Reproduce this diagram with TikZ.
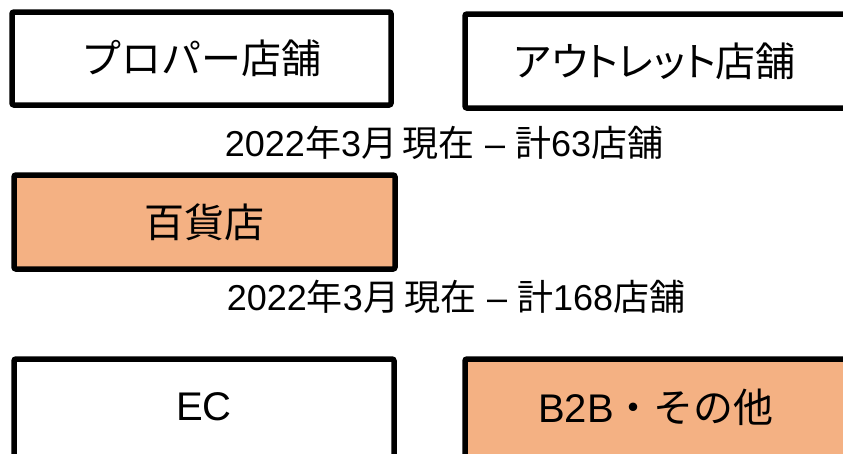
\documentclass[tikz,border=0pt]{standalone}
\usepackage{fontspec}
\setmainfont{Liberation Sans}
\newfontfamily\jp{Noto Sans CJK JP}
\newfontfamily\jpp[RawFeature=+palt]{Noto Sans CJK JP}
\newcommand{\J}[1]{{\jp #1}}
\newcommand{\JP}[1]{{\jpp #1}}
\definecolor{boxorange}{HTML}{F4B183}
\begin{document}
\begin{tikzpicture}[x=1pt,y=-1pt,
  box/.style={draw=black,line width=5.5pt,rounded corners=2pt},
  lbl/.style={font=\fontsize{40}{42}\selectfont,inner sep=0pt,anchor=center},
  sub/.style={font=\fontsize{36}{38}\selectfont,inner sep=0pt,anchor=center}]
\useasboundingbox (0,0) rectangle (843,453);
\begin{scope}
\clip (0,0) rectangle (843,453);
\draw[box,fill=white] (12,12) rectangle (391,105);
\draw[box,fill=white] (465,14) rectangle (848,108);
\draw[box,fill=boxorange] (14,175) rectangle (395,269);
\draw[box,fill=white] (14,359) rectangle (394,458);
\draw[box,fill=boxorange] (465,359) rectangle (848,458);
\end{scope}
\node[lbl] (proper) at (201,58) {\J{プロパー店舗}};
\node[lbl] (outlet) at (655,61) {\JP{アウトレット店舗}};
\node[lbl] (dept) at (204,222) {\J{百貨店}};
\node[sub] (sub1) at (444,143) {2022\J{年}3\J{月}\,\J{現在} – \J{計}63\J{店舗}};
\node[sub] (sub2) at (456,297) {2022\J{年}3\J{月}\,\J{現在} – \J{計}168\J{店舗}};
\node[lbl] (ec) at (204,407) {EC};
\node[lbl] (b2b) at (656,407) {B2B\J{・その他}};
\end{tikzpicture}
\end{document}
